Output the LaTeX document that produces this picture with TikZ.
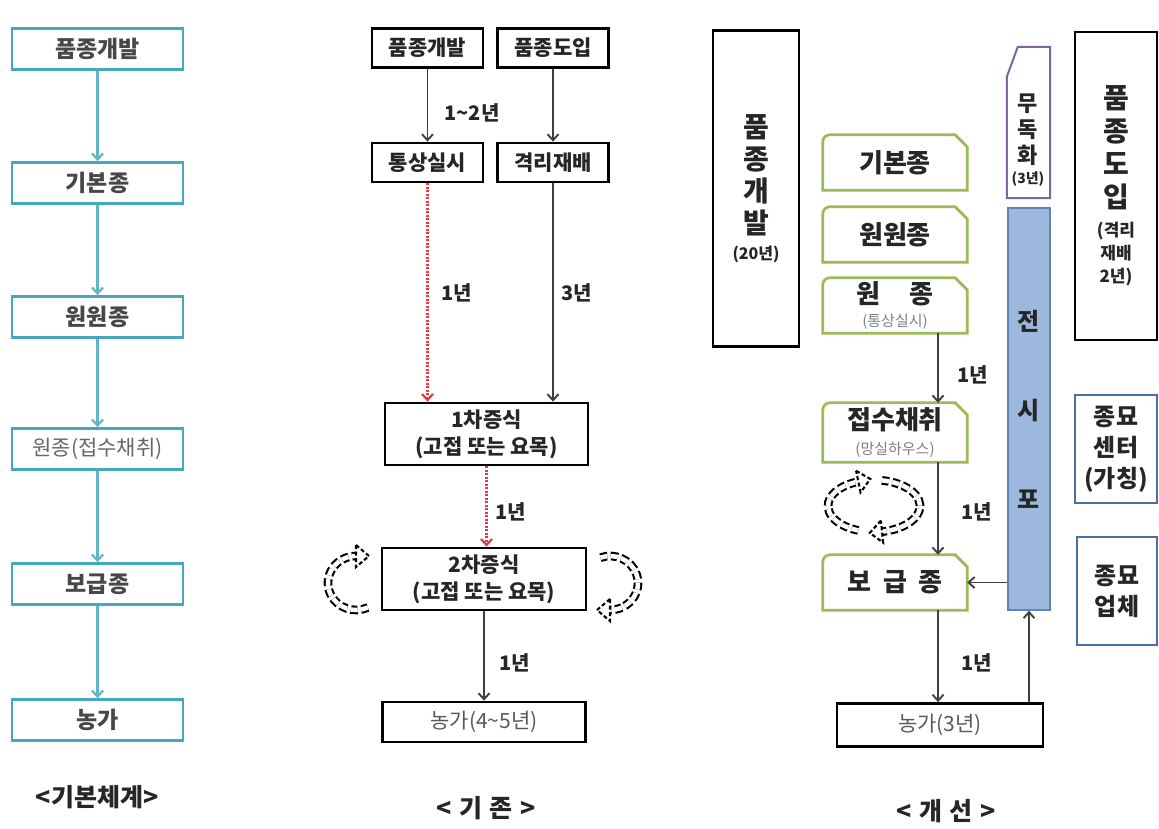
\documentclass[tikz,border=0pt]{standalone}
\usepackage{fontspec}
\setmainfont{Noto Sans CJK KR}
\usetikzlibrary{arrows.meta,calc}
\definecolor{teal1}{HTML}{45A8BE}
\definecolor{gr1}{HTML}{9BBB59}
\definecolor{pu1}{HTML}{8064A2}
\definecolor{bfill}{HTML}{9DB8DC}
\definecolor{bdraw}{HTML}{5F84B8}
\definecolor{bbox}{HTML}{4A6FA5}
\definecolor{red1}{HTML}{E8383D}
\definecolor{txt}{HTML}{262626}
\definecolor{ltxt}{HTML}{808080}
\newcommand\snipshape[1]{\draw[gline] (#1.south west) -- ([yshift=-7pt]#1.north west) arc[start angle=180,end angle=90,radius=7pt] -- ([xshift=-12pt]#1.north east) -- ([yshift=-12pt]#1.north east) -- (#1.south east) -- cycle;}
\begin{document}
\begin{tikzpicture}[x=1pt,y=-1pt,
  tealbox/.style={draw=teal1, line width=2.8pt, minimum width=171pt, minimum height=41pt, inner sep=0pt, font=\fontsize{23}{26}\selectfont\bfseries, text=txt!85},
  tealarrow/.style={draw=teal1!85, line width=2.2pt, -{Straight Barb[length=6pt,width=11pt]}},
  blkbox/.style={draw=black, line width=2.8pt, inner sep=0pt, text=txt, align=center},
  mbox/.style={blkbox, minimum width=111pt, minimum height=39pt, font=\fontsize{21}{24}\selectfont\bfseries},
  blkarrow/.style={draw=black!75, line width=1.9pt, -{Straight Barb[length=6pt,width=11pt]}},
  redarrow/.style={draw=red1, line width=2.2pt, dash pattern=on 2pt off 1.5pt, -{Straight Barb[length=6pt,width=11pt]}},
  lbl/.style={font=\fontsize{20}{22}\selectfont\bfseries, text=txt},
  ttl/.style={font=\fontsize{25}{28}\selectfont\bfseries, text=txt},
  dloop/.style={draw=black, line width=2.1pt, double=white, double distance=4.5pt, dash pattern=on 7pt off 3.5pt},
  dhead/.style={draw=black, line width=2.1pt, dash pattern=on 4pt off 2.5pt, fill=white, line join=miter},
  gnode/.style={inner sep=0pt, minimum width=144pt, minimum height=55pt, align=center, font=\fontsize{26}{30}\selectfont\bfseries, text=txt},
  gline/.style={draw=gr1, line width=2.7pt},
  vtext/.style={align=center, text=txt, inner sep=0pt}
]
\fill[white] (0,0) rectangle (1159,828);
\useasboundingbox (0,0) rectangle (1159,828);

% ---------------- left: basic system
\node[tealbox] (a1) at (97.5,49) {품종개발};
\node[tealbox] (a2) at (97.5,183) {기본종};
\node[tealbox] (a3) at (97.5,317) {원원종};
\node[tealbox, font=\fontsize{21}{24}\selectfont, text=black!60] (a4) at (97.5,449) {원종(접수채취)};
\node[tealbox] (a5) at (97.5,584) {보급종};
\node[tealbox] (a6) at (97.5,720) {농가};
\foreach \p/\q in {a1/a2,a2/a3,a3/a4,a4/a5,a5/a6} \draw[tealarrow] (\p.south) -- (\q.north);
\node[ttl] (t1) at (97,797) {<기본체계>};

% ---------------- middle: existing
\node[mbox] (b1) at (427.5,48) {품종개발};
\node[mbox] (b2) at (553,48) {품종도입};
\node[mbox] (b3) at (427.5,162.5) {통상실시};
\node[mbox] (b4) at (553,162.5) {격리재배};
\node[blkbox, minimum width=203pt, minimum height=62pt, font=\fontsize{21}{27}\selectfont\bfseries] (b5) at (486.5,434) {1차증식\\(고접 또는 요목)};
\node[blkbox, minimum width=204pt, minimum height=62pt, font=\fontsize{21}{27}\selectfont\bfseries] (b6) at (484,579) {2차증식\\(고접 또는 요목)};
\node[blkbox, minimum width=203pt, minimum height=40pt, font=\fontsize{21}{24}\selectfont, text=black!65] (b7) at (484,722) {농가(4\textasciitilde5년)};

\draw[blkarrow] (b1.south) -- (b3.north);
\draw[blkarrow] (b2.south) -- (b4.north);
\draw[redarrow] (b3.south) -- (b3.south |- b5.north);
\draw[blkarrow] (b4.south) -- (b4.south |- b5.north);
\draw[redarrow] (b5.south) -- (b5.south |- b6.north);
\draw[blkarrow] (b6.south) -- (b7.north);

\node[lbl] (l1) at (472,113) {1\textasciitilde2년};
\node[lbl] (l2) at (457,293) {1년};
\node[lbl] (l3) at (577,293) {3년};
\node[lbl] (l4) at (511,512) {1년};
\node[lbl] (l5) at (515,663) {1년};

% loops around 2차증식
\draw[dloop] ([shift={(295:28pt and 27pt)}]356,583) arc[start angle=295, end angle=90, x radius=28pt, y radius=27pt];
\draw[dhead] (356,545) -- (369,556) -- (356,567) -- cycle;
\draw[dloop] ([shift={(110:28pt and 27pt)}]610,583) arc[start angle=110, end angle=-90, x radius=28pt, y radius=27pt];
\draw[dhead] (610,599) -- (597,610) -- (610,621) -- cycle;

\node[ttl] (t2) at (486,808) {<\hspace{0.3em}기\hspace{0.3em}존\hspace{0.3em}>};

% ---------------- right: improved
\node[blkbox, minimum width=86pt, minimum height=316pt, font=\fontsize{28}{32}\selectfont\bfseries] (c1) at (756,188.5)
  {품\\종\\개\\발\\[-6pt]{\fontsize{16}{18}\selectfont (20년)}};

\node[gnode] (g1) at (895,162.5) {기본종};
\node[gnode] (g2) at (895,234.5) {원원종};
\node[gnode] (g3) at (895,305.5) {원\hspace{1.1em}종\\[-7pt]{\fontsize{15}{16}\selectfont\mdseries\color{ltxt}(통상실시)}};
\node[gnode, minimum height=59pt] (g4) at (895,432.5) {접수채취\\[-5pt]{\fontsize{15}{16}\selectfont\mdseries\color{ltxt}(망실하우스)}};
\node[gnode] (g5) at (895,582.5) {보\hspace{0.45em}급\hspace{0.45em}종};
\foreach \g in {g1,g2,g3,g4,g5} {\snipshape{\g}}

% 무독화
\node[minimum width=43pt, minimum height=151pt, inner sep=0pt] (mb) at (1028.5,122.5) {};
\draw[draw=pu1, line width=2pt] (mb.south west) -- ([yshift=-30pt]mb.north west) -- ([xshift=11pt]mb.north west) -- (mb.north east) -- (mb.south east) -- cycle;
\node[vtext, font=\fontsize{22}{26}\selectfont\bfseries] (mt) at (1028,140) {무\\독\\화\\[-6pt]{\fontsize{14}{15}\selectfont (3년)}};

% 전시포 bar
\node[fill=bfill, draw=bdraw, line width=1.6pt, minimum width=42pt, minimum height=402pt, inner sep=0pt, align=center, text=txt, font=\fontsize{24}{89}\selectfont\bfseries] (jsp) at (1029,409) {전\\시\\포};

% 품종도입
\node[blkbox, minimum width=82pt, minimum height=308pt, font=\fontsize{28}{33}\selectfont\bfseries] (c2) at (1116,186)
  {품\\종\\도\\입\\[-4pt]{\fontsize{17}{18}\selectfont (격리}\\[-10pt]{\fontsize{17}{18}\selectfont 재배}\\[-10pt]{\fontsize{17}{18}\selectfont 2년)}};

\node[draw=bbox, line width=2.4pt, minimum width=82pt, minimum height=108pt, inner sep=0pt, align=center, text=txt, font=\fontsize{24}{31}\selectfont\bfseries] (c3) at (1116,449) {종묘\\센터\\(가칭)};
\node[draw=bbox, line width=2.4pt, minimum width=80pt, minimum height=108pt, inner sep=0pt, align=center, text=txt, font=\fontsize{24}{31}\selectfont\bfseries] (c4) at (1117,591) {종묘\\업체};

\node[blkbox, minimum width=206pt, minimum height=43pt, font=\fontsize{21}{24}\selectfont, text=black!65] (c5) at (940,725) {농가(3년)};

\draw[blkarrow] ([xshift=43pt]g3.south) -- ([xshift=43pt]g4.north);
\draw[blkarrow] ([xshift=43pt]g4.south) -- ([xshift=43pt]g5.north);
\draw[blkarrow] ([xshift=43pt]g5.south) -- ([xshift=43pt]g5.south |- c5.north);
\draw[blkarrow] (jsp.south |- c5.north) -- (jsp.south);
\draw[blkarrow] (g5.east -| jsp.west) -- (g5.east);

\node[lbl] (r1) at (973,375) {1년};
\node[lbl] (r2) at (977,512) {1년};
\node[lbl] (r3) at (977,663) {1년};

% cycle loops
\draw[dloop] ([shift={(250:46pt and 26pt)}]874,506) arc[start angle=250, end angle=110, x radius=46pt, y radius=26pt];
\draw[dhead] (856.1,470.8) -- (870.3,479.0) -- (860.5,492.4) -- cycle;
\draw[dloop] ([shift={(80:46pt and 26pt)}]874,506) arc[start angle=80, end angle=-80, x radius=46pt, y radius=26pt];
\draw[dhead] (880.9,520.6) -- (869.8,532.9) -- (883.1,542.6) -- cycle;

\node[ttl] (t3) at (946,811) {<\hspace{0.3em}개\hspace{0.3em}선\hspace{0.3em}>};
\end{tikzpicture}
\end{document}
